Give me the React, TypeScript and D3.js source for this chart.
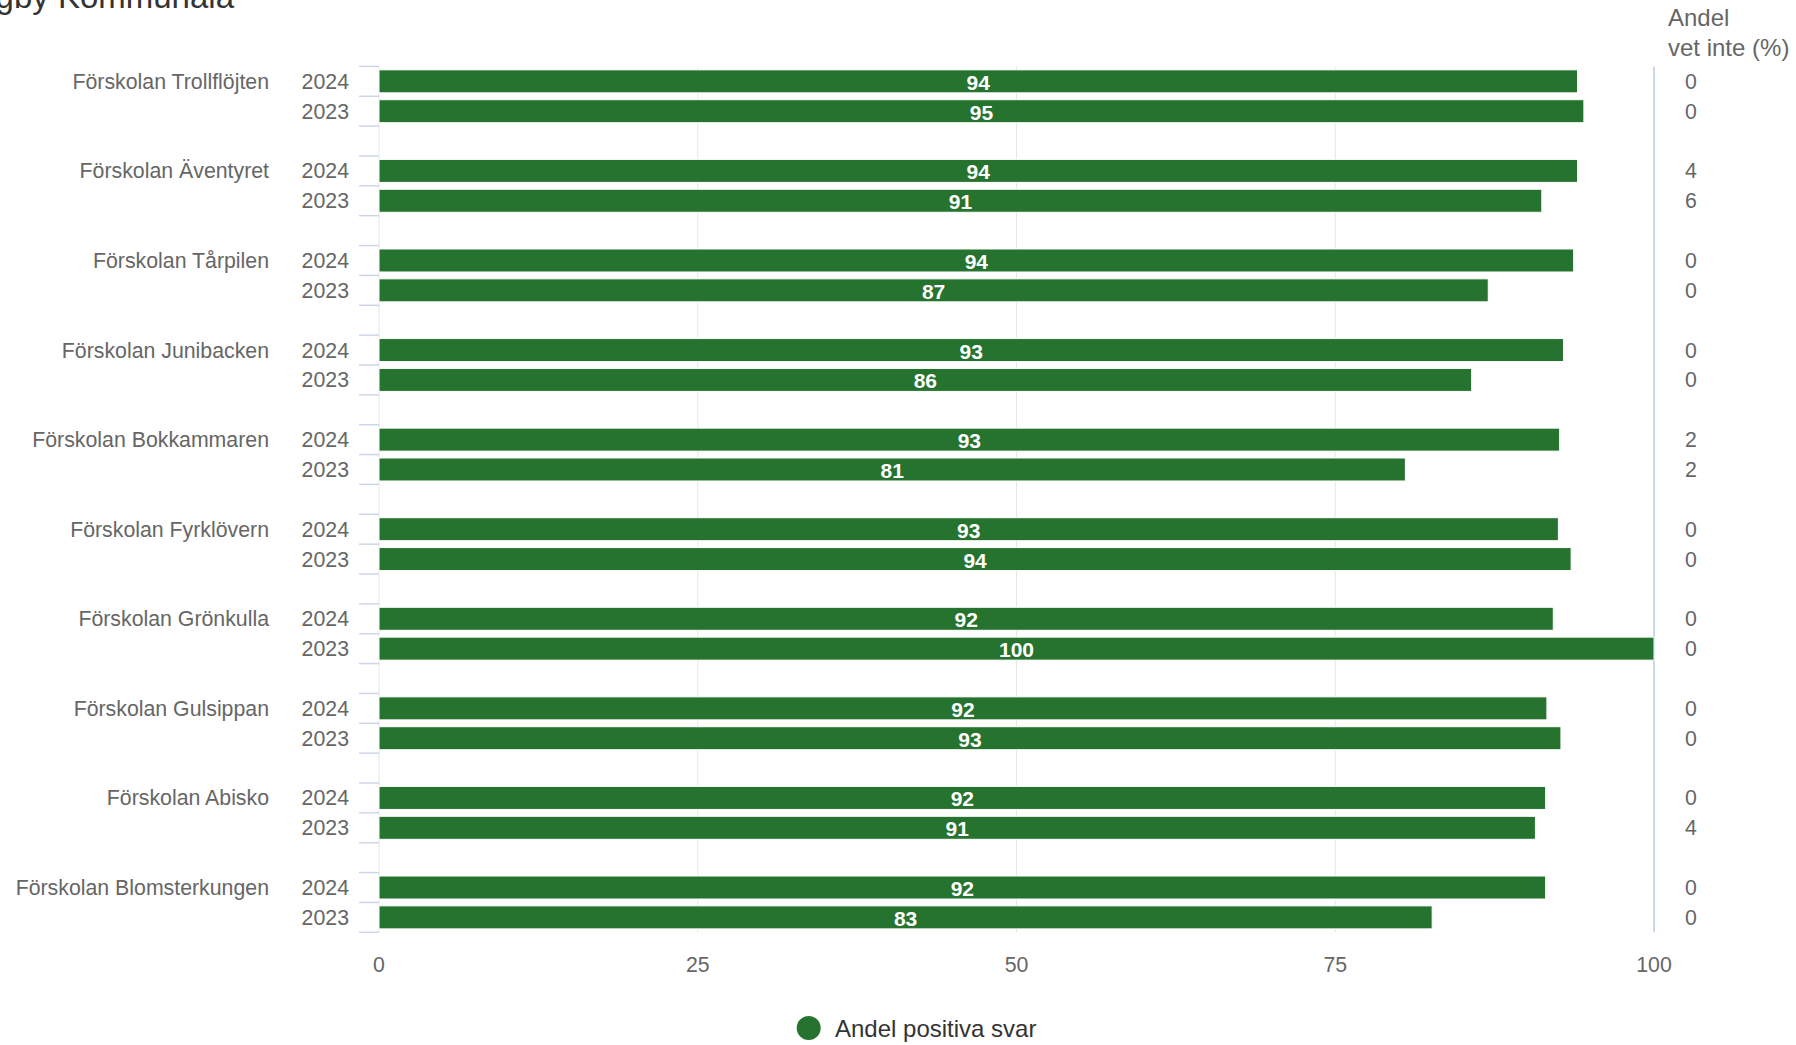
import React from "react";
import * as d3 from "d3";

const schools = [
  "Förskolan Trollflöjten",
  "Förskolan Äventyret",
  "Förskolan Tårpilen",
  "Förskolan Junibacken",
  "Förskolan Bokkammaren",
  "Förskolan Fyrklövern",
  "Förskolan Grönkulla",
  "Förskolan Gulsippan",
  "Förskolan Abisko",
  "Förskolan Blomsterkungen",
];
const years = ["2024", "2023"];
const positive2024 = [94.0, 94.0, 93.7, 92.9, 92.6, 92.5, 92.1, 91.6, 91.5, 91.5];
const positive2023 = [94.5, 91.2, 87.0, 85.7, 80.5, 93.5, 100, 92.7, 90.7, 82.6];
const dontKnow2024 = [0, 4, 0, 0, 2, 0, 0, 0, 0, 0];
const dontKnow2023 = [0, 6, 0, 0, 2, 0, 0, 0, 4, 0];
const xTicks = [0, 25, 50, 75, 100];
const titleText = "gby Kommunala";
const legendLabel = "Andel positiva svar";
const sideHeader = ["Andel", "vet inte (%)"];

const W = 1796;
const H = 1045;
const FONT = "'Liberation Sans', Arial, Helvetica, sans-serif";
const GREEN = "#267330";
const LABEL_SIZE = 21.3;

type Row = { key: string; school: number; year: number; value: number; dk: number };

export default function App() {
  const rows: Row[] = [];
  const slots: string[] = [];
  schools.forEach((s, i) => {
    years.forEach((yr, j) => {
      const key = `${i}-${yr}`;
      slots.push(key);
      rows.push({
        key,
        school: i,
        year: j,
        value: j === 0 ? positive2024[i] : positive2023[i],
        dk: j === 0 ? dontKnow2024[i] : dontKnow2023[i],
      });
    });
    if (i < schools.length - 1) slots.push(`${i}-gap`);
  });

  const x = d3.scaleLinear().domain([0, 100]).range([379, 1654]);
  const y = d3.scaleBand<string>().domain(slots).range([66.4, 932.3]).padding(0);
  const bw = y.bandwidth();
  const barH = 23;
  const top = y.range()[0];
  const bottom = y.range()[1];
  const boundaries = d3.range(slots.length + 1).map((k) => top + k * bw);

  return (
    <svg
      width={W}
      height={H}
      style={{ position: "absolute", left: 0, top: 0, background: "#fff" }}
      fontFamily={FONT}
    >
      <rect x={0} y={0} width={W} height={H} fill="#fff" />
      {/* title (cut off at top, as in the reference) */}
      <text x={234} y={8} textAnchor="end" fontSize={33} fill="#333">
        {titleText}
      </text>

      {/* grid lines */}
      {xTicks.slice(0, 4).map((t) => (
        <line key={t} x1={x(t)} x2={x(t)} y1={top} y2={bottom} stroke="#e6e6e6" strokeWidth={1} />
      ))}
      <line x1={x(100)} x2={x(100)} y1={top} y2={bottom} stroke="#ccd6eb" strokeWidth={2} />

      {/* left tick marks */}
      {boundaries.map((b, k) => (
        <line key={k} x1={359} x2={379} y1={b} y2={b} stroke="#ccd6eb" strokeWidth={1.5} />
      ))}

      {/* bars */}
      {rows.map((r) => {
        const cy = (y(r.key) as number) + bw / 2;
        return (
          <g key={r.key}>
            <rect
              x={x(0)}
              y={cy - barH / 2}
              width={x(r.value) - x(0)}
              height={barH}
              fill={GREEN}
              stroke="#fff"
              strokeWidth={1}
            />
            <text
              x={(x(0) + x(r.value)) / 2}
              y={cy + 8.5}
              textAnchor="middle"
              fontSize={21}
              fontWeight="bold"
              fill="#fff"
            >
              {Math.round(r.value)}
            </text>
            <text x={349} y={cy + 7.5} textAnchor="end" fontSize={LABEL_SIZE} fill="#666">
              {years[r.year]}
            </text>
            {r.year === 0 && (
              <text x={269} y={cy + 7.5} textAnchor="end" fontSize={LABEL_SIZE} fill="#666">
                {schools[r.school]}
              </text>
            )}
            <text x={1691} y={cy + 7.5} textAnchor="middle" fontSize={LABEL_SIZE} fill="#666">
              {r.dk}
            </text>
          </g>
        );
      })}

      {/* x axis labels */}
      {xTicks.map((t) => (
        <text key={t} x={x(t)} y={972} textAnchor="middle" fontSize={LABEL_SIZE} fill="#666">
          {t}
        </text>
      ))}

      {/* side header */}
      <text x={1668} y={26} fontSize={24} fill="#666">
        {sideHeader[0]}
      </text>
      <text x={1668} y={56} fontSize={24} fill="#666">
        {sideHeader[1]}
      </text>

      {/* legend */}
      <circle cx={808.7} cy={1028} r={12} fill={GREEN} />
      <text x={835} y={1037} fontSize={24} fill="#333">
        {legendLabel}
      </text>
    </svg>
  );
}
